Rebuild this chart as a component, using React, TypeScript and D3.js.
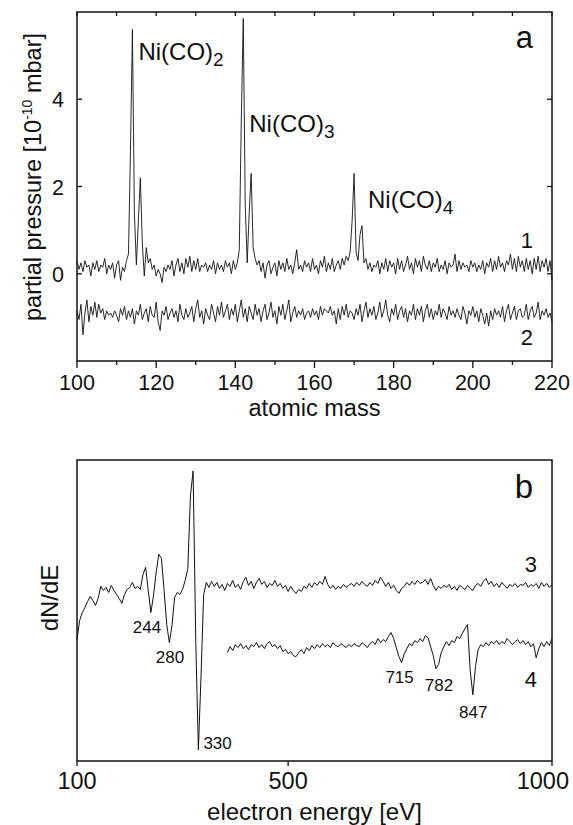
import React from "react";
import * as d3 from "d3";

// panel a: mass spectra, one point every 0.5 amu starting at 100
const MASS_START = 100;
const MASS_STEP = 0.5;
const trace1 = [
  0.3, 0.1, 0.25, 0.05, 0.3, 0.15, 0.2, -0.05, 0.25, 0.1,
  0.3, 0.05, 0.2, 0.15, 0.35, 0.0, 0.2, 0.1, 0.25, -0.1,
  0.2, 0.3, -0.15, 0.15, 0.05, 0.3, 0.45, 2.8, 5.6, 1.4,
  0.2, 1.2, 2.2, 0.7, -0.05, 0.6, 0.25, 0.35, 0.1, 0.2,
  -0.05, 0.1, 0.0, -0.2, 0.15, 0.05, 0.2, 0.1, 0.3, -0.05,
  0.2, 0.35, 0.05, 0.25, 0.0, 0.35, 0.15, 0.4, 0.05, 0.3,
  0.1, 0.35, 0.05, 0.2, 0.15, 0.25, 0.05, 0.2, 0.1, 0.3,
  0.0, 0.25, 0.1, 0.2, 0.05, 0.3, 0.15, 0.25, 0.0, 0.3,
  0.1, 0.25, 0.55, 3.5, 5.85, 1.6, 0.25, 1.4, 2.3, 0.6,
  0.35, 0.2, 0.3, 0.05, 0.25, -0.1, 0.2, 0.3, 0.0, 0.15,
  0.25, -0.05, 0.3, 0.1, 0.25, 0.05, 0.35, 0.1, 0.2, 0.0,
  0.25, 0.55, 0.1, 0.2, 0.05, 0.3, 0.15, 0.25, 0.05, 0.35,
  0.1, 0.2, 0.0, 0.3, 0.15, 0.4, 0.05, 0.25, 0.1, 0.35,
  0.05, 0.2, 0.3, 0.1, 0.35, 0.2, 0.4, 0.3, 0.5, 1.2,
  2.3, 0.5, 0.3, 0.9, 1.1, 0.25, 0.35, 0.1, 0.25, 0.05,
  0.2, 0.15, 0.3, 0.0, 0.25, 0.1, 0.35, 0.05, 0.3, 0.15,
  0.25, 0.0, 0.35, 0.1, 0.3, 0.05, 0.2, 0.4, 0.1, 0.25,
  0.0, 0.35, 0.15, 0.3, 0.05, 0.4, 0.2, 0.1, 0.3, 0.05,
  0.25, 0.15, 0.35, 0.05, 0.2, 0.1, 0.3, 0.0, 0.25, 0.15,
  0.2, 0.45, 0.05, 0.3, 0.1, 0.25, 0.15, 0.2, 0.05, 0.3,
  0.15, 0.25, 0.05, 0.2, 0.1, 0.3, 0.0, 0.25, 0.15, 0.35,
  0.05, 0.3, 0.1, 0.4, 0.15, 0.25, 0.05, 0.3, 0.2, 0.45,
  0.1, 0.35, 0.05, 0.4, 0.15, 0.3, 0.05, 0.35, 0.1, 0.3,
  0.0, 0.35, 0.1, 0.4, 0.05, 0.3, 0.15, 0.35, 0.05, 0.3,
  -0.15,
];
const trace2 = [
  -0.85, -1.05, -0.7, -1.4, -0.9, -0.6, -1.1, -0.75, -0.95, -0.65,
  -1.0, -0.7, -0.9, -0.8, -1.05, -0.85, -0.95, -0.9, -1.0, -0.85,
  -0.95, -1.1, -0.8, -0.95, -0.75, -1.05, -0.85, -1.0, -0.8, -1.15,
  -0.85, -0.95, -0.7, -1.05, -0.9, -0.8, -1.1, -0.75, -0.95, -1.0,
  -0.65, -1.1, -1.3, -0.85, -0.95, -0.75, -1.05, -0.9, -0.8, -1.0,
  -0.85, -1.1, -0.7, -0.95, -1.05, -0.8, -1.0, -0.9, -0.75, -1.1,
  -0.8, -0.6, -1.0, -0.85, -1.15, -0.8, -0.95, -1.05, -0.7, -0.9,
  -1.1, -0.75, -0.95, -0.65, -1.0, -0.85, -0.7, -1.05, -0.8, -0.95,
  -0.7, -1.1, -0.85, -0.6, -1.0, -0.8, -1.1, -0.75, -0.9, -1.05,
  -0.7, -0.95, -0.8, -1.1, -0.85, -0.7, -1.05, -0.9, -0.65, -1.0,
  -0.85, -1.15, -0.75, -0.95, -0.7, -1.05, -0.85, -0.6, -1.1, -0.9,
  -0.75, -1.0, -0.85, -0.95, -0.8, -1.05, -0.9, -0.85, -1.0, -0.8,
  -0.95, -0.85, -1.05, -0.75, -0.95, -0.8, -0.85, -0.9, -0.75, -0.95,
  -0.85, -1.15, -0.8, -1.05, -0.75, -0.95, -0.7, -1.0, -0.85, -0.9,
  -1.05, -0.8, -0.95, -0.7, -1.1, -0.85, -0.65, -1.0, -0.8, -0.95,
  -0.75, -1.05, -0.9, -0.65, -1.0, -0.85, -0.6, -0.95, -1.1, -0.8,
  -0.95, -0.7, -1.05, -0.85, -0.75, -1.0, -0.8, -1.1, -0.85, -0.95,
  -0.7, -1.05, -0.8, -0.95, -0.75, -1.1, -0.85, -0.7, -1.0, -0.8,
  -1.05, -0.85, -0.95, -0.7, -1.0, -0.8, -0.9, -1.05, -0.75, -0.95,
  -0.85, -1.0, -0.8, -0.95, -1.05, -0.75, -0.9, -1.15, -0.85, -0.95,
  -0.75, -1.0, -0.85, -1.1, -0.8, -0.95, -1.15, -0.9, -1.2, -0.85,
  -1.05, -0.8, -0.95, -0.85, -1.0, -0.75, -1.1, -0.85, -0.7, -1.05,
  -0.9, -0.75, -1.05, -0.85, -0.8, -1.0, -0.95, -0.7, -1.05, -0.85,
  -0.75, -1.0, -0.9, -0.65, -1.05, -0.85, -0.95, -0.8, -1.0, -0.9,
  -1.1,
];
const massMajorTicks = [100, 120, 140, 160, 180, 200, 220];
const massMinorTicks = [110, 130, 150, 170, 190, 210];
const pressureTicks = [0, 2, 4];

// panel b: Auger spectra (arb. units), one point every 5 eV
const ENERGY_STEP = 5;
const TRACE3_START = 100;
const trace3 = [
  12.1, 14.0, 14.8, 15.3, 15.9, 16.4, 16.0, 15.5, 16.2, 17.4,
  17.0, 17.3, 16.8, 17.5, 17.0, 16.6, 16.2, 15.7, 16.6, 17.1,
  17.3, 17.8, 17.2, 17.4, 17.1, 18.6, 19.3, 17.0, 14.8, 16.5,
  18.8, 20.6, 20.2, 17.0, 13.6, 11.8, 13.5, 16.3, 16.8, 16.6,
  17.1, 18.0, 19.2, 26.5, 28.9, 12.0, 1.1, 8.5, 16.6, 17.8,
  17.3, 17.9, 17.4, 17.8, 17.2, 17.6, 17.0, 17.7, 17.4, 18.0,
  17.3, 17.6, 17.1, 17.9, 18.3, 17.5, 17.9, 17.2, 17.8, 18.2,
  17.6, 17.9, 17.3, 17.7, 17.5, 18.0, 17.4, 17.7, 17.2, 17.5,
  16.9, 17.4, 17.0, 16.7, 17.1, 16.9, 17.4, 17.2, 17.7, 17.3,
  17.8, 17.5, 17.9, 17.6, 18.4, 17.6, 17.2, 17.5, 17.1, 17.4,
  17.2, 17.6, 17.3, 17.5, 17.7, 17.4, 17.8, 17.5, 17.9, 17.6,
  17.4, 17.8, 17.5, 18.0, 17.7, 18.3, 17.9, 17.4, 17.8, 17.2,
  17.5, 17.0, 16.7, 17.2, 17.4, 17.8, 17.5, 17.9, 17.6, 18.0,
  17.7, 17.8, 18.1, 17.6, 18.2, 17.5, 17.0, 17.4, 17.2, 17.5,
  17.3, 17.6, 17.1, 17.4, 17.0, 17.5, 17.3, 17.1, 17.5, 17.2,
  17.0, 17.5, 17.7, 17.4, 17.9, 18.2, 17.6, 17.9, 17.4, 17.7,
  17.3, 17.8, 17.5, 17.2, 17.6, 17.4, 17.7, 17.3, 17.6, 17.5,
  17.8, 17.3, 17.6, 17.4, 17.7, 17.2, 17.8, 17.4, 17.7, 17.3,
  17.6,
];
const TRACE4_START = 385;
const trace4 = [
  10.8, 11.4, 11.0, 11.6, 11.3, 11.7, 11.2, 11.5, 11.1, 11.6,
  11.4, 11.8, 11.3, 11.6, 11.2, 11.7, 11.9, 11.4, 11.6, 11.2,
  11.5, 10.9, 11.1, 10.7, 10.9, 10.5, 10.4, 10.8, 11.1, 10.7,
  11.3, 11.0, 11.5, 11.2, 11.6, 11.3, 11.7, 11.4, 11.6, 11.3,
  11.8, 11.5, 11.4, 11.7, 11.5, 11.3, 11.6, 11.4, 11.7, 11.5,
  11.4, 11.8, 11.6, 11.3, 11.7, 11.9, 11.6, 12.2, 11.8, 12.1,
  11.9, 12.4, 12.8, 12.2, 11.3, 10.4, 9.8, 10.7, 11.2, 11.7,
  11.5, 12.0, 11.8, 12.2, 11.9, 12.5, 12.3, 11.4, 10.5, 9.2,
  9.6, 10.8, 11.4, 11.9, 11.5, 12.0, 11.8, 12.4, 12.2, 12.7,
  13.2, 13.6, 9.0, 6.6, 9.4, 11.1, 11.6, 11.4, 11.8, 11.5,
  11.9, 11.7, 12.0, 11.6, 11.9, 11.7, 12.2, 11.9, 11.6, 11.9,
  12.1, 11.7, 12.0, 11.6, 11.9, 11.4, 11.7, 10.3, 11.2, 11.8,
  11.4, 11.9, 11.5, 12.2,
];
const energyTicks = [100, 500, 1000];

const FONT = "'Liberation Sans', Arial, Helvetica, sans-serif";
const INK = "#111";

const xA = d3.scaleLinear().domain([100, 220]).range([77, 552]);
const yA = d3.scaleLinear().domain([-2, 6]).range([361, 12]);
const xB = d3.scaleLinear().domain([100, 1000]).range([77, 552]);
const yB = d3.scaleLinear().domain([0, 30]).range([761, 460]);

const massLine = d3
  .line<number>()
  .x((d, i) => xA(MASS_START + i * MASS_STEP))
  .y((d) => yA(d));

const energyLine = (start: number) =>
  d3
    .line<number>()
    .x((d, i) => xB(start + i * ENERGY_STEP))
    .y((d) => yB(d));

const App = () => {
  const [ax0, ax1] = xA.range();
  const [ay0, ay1] = yA.range();
  const [bx0, bx1] = xB.range();
  const [by0, by1] = yB.range();

  return (
    <svg
      width={573}
      height={825}
      style={{ position: "absolute", left: 0, top: 0, background: "#fff" }}
      fontFamily={FONT}
    >
      {/* ---------- panel a ---------- */}
      <g>
        <path d={massLine(trace1) || ""} fill="none" stroke={INK} strokeWidth={0.9} />
        <path d={massLine(trace2) || ""} fill="none" stroke={INK} strokeWidth={0.9} />
        <rect x={ax0} y={ay1} width={ax1 - ax0} height={ay0 - ay1} fill="none" stroke={INK} strokeWidth={1.5} />
        {massMajorTicks.map((t) => (
          <g key={"ma" + t}>
            <line x1={xA(t)} x2={xA(t)} y1={ay0} y2={ay0 + 7} stroke={INK} strokeWidth={1.3} />
            <line x1={xA(t)} x2={xA(t)} y1={ay1} y2={ay1 + 4} stroke={INK} strokeWidth={1.3} />
            <text x={xA(t)} y={390} fontSize={21.5} textAnchor="middle" fill={INK}>
              {t}
            </text>
          </g>
        ))}
        {massMinorTicks.map((t) => (
          <g key={"mi" + t}>
            <line x1={xA(t)} x2={xA(t)} y1={ay0} y2={ay0 + 4} stroke={INK} strokeWidth={1.3} />
            <line x1={xA(t)} x2={xA(t)} y1={ay1} y2={ay1 + 4} stroke={INK} strokeWidth={1.3} />
          </g>
        ))}
        {pressureTicks.map((t) => (
          <g key={"p" + t}>
            <line x1={ax0} x2={ax0 + 5} y1={yA(t)} y2={yA(t)} stroke={INK} strokeWidth={1.3} />
            <line x1={ax1} x2={ax1 - 5} y1={yA(t)} y2={yA(t)} stroke={INK} strokeWidth={1.3} />
            <text x={64} y={yA(t) + 8} fontSize={21.5} textAnchor="end" fill={INK}>
              {t}
            </text>
          </g>
        ))}
        <text x={(ax0 + ax1) / 2} y={416} fontSize={23.5} textAnchor="middle" fill={INK}>
          atomic mass
        </text>
        <text transform="translate(41,177) rotate(-90)" fontSize={23.5} textAnchor="middle" fill={INK}>
          partial pressure [10
          <tspan fontSize={14} dy={-9}>-10</tspan>
          <tspan dy={9}> mbar]</tspan>
        </text>
        <text x={xA(114) + 6} y={60} fontSize={24} fill={INK}>
          Ni(CO)<tspan fontSize={19} dy={6}>2</tspan>
        </text>
        <text x={xA(142) + 6} y={132} fontSize={24} fill={INK}>
          Ni(CO)<tspan fontSize={19} dy={6}>3</tspan>
        </text>
        <text x={xA(172) + 6} y={208} fontSize={24} fill={INK}>
          Ni(CO)<tspan fontSize={19} dy={6}>4</tspan>
        </text>
        <text x={533} y={48} fontSize={31} textAnchor="end" fill={INK}>a</text>
        <text x={533} y={248} fontSize={22} textAnchor="end" fill={INK}>1</text>
        <text x={533} y={345} fontSize={22} textAnchor="end" fill={INK}>2</text>
      </g>

      {/* ---------- panel b ---------- */}
      <g>
        <path d={energyLine(TRACE3_START)(trace3) || ""} fill="none" stroke={INK} strokeWidth={1} />
        <path d={energyLine(TRACE4_START)(trace4) || ""} fill="none" stroke={INK} strokeWidth={1} />
        <rect x={bx0} y={by1} width={bx1 - bx0} height={by0 - by1} fill="none" stroke={INK} strokeWidth={1.5} />
        {energyTicks.map((t) => (
          <g key={"e" + t}>
            <line x1={xB(t)} x2={xB(t)} y1={by0} y2={by0 + 5} stroke={INK} strokeWidth={1.3} />
            {/* the last label sits flush with the page edge, as in the original */}
            <text
              x={t === 1000 ? 569 : xB(t)}
              y={789}
              fontSize={23.5}
              textAnchor={t === 1000 ? "end" : "middle"}
              fill={INK}
            >
              {t}
            </text>
          </g>
        ))}
        <text x={(bx0 + bx1) / 2} y={820} fontSize={24} textAnchor="middle" fill={INK}>
          electron energy [eV]
        </text>
        <text transform="translate(58,598) rotate(-90)" fontSize={24} textAnchor="middle" fill={INK}>
          dN/dE
        </text>
        <text x={xB(244) - 6} y={yB(14.8) + 20} fontSize={17} textAnchor="middle" fill={INK}>244</text>
        <text x={xB(280) - 2} y={yB(11.8) + 20} fontSize={17} textAnchor="middle" fill={INK}>280</text>
        <text x={xB(330) + 5} y={yB(1.1) - 1} fontSize={17} fill={INK}>330</text>
        <text x={xB(715) - 2} y={yB(9.8) + 20} fontSize={17} textAnchor="middle" fill={INK}>715</text>
        <text x={xB(782) + 2} y={yB(9.2) + 22} fontSize={17} textAnchor="middle" fill={INK}>782</text>
        <text x={xB(847) + 2} y={yB(6.6) + 23} fontSize={17} textAnchor="middle" fill={INK}>847</text>
        <text x={533} y={498} fontSize={33} textAnchor="end" fill={INK}>b</text>
        <text x={537} y={572} fontSize={22} textAnchor="end" fill={INK}>3</text>
        <text x={537} y={687} fontSize={22} textAnchor="end" fill={INK}>4</text>
      </g>
    </svg>
  );
};

export default App;
